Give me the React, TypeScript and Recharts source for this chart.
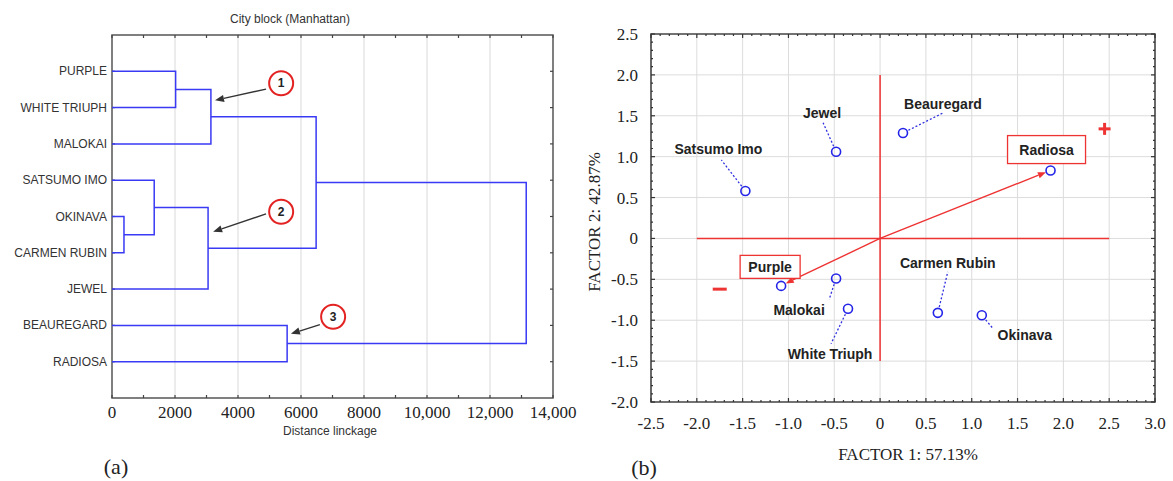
import React from 'react';
import {
    LineChart, Line, XAxis, YAxis, CartesianGrid, ReferenceLine, ReferenceDot, ReferenceArea,
    ScatterChart, Scatter,
} from 'recharts';

// ---- (a) dendrogram ----
const leaves = ['PURPLE', 'WHITE TRIUPH', 'MALOKAI', 'SATSUMO IMO', 'OKINAVA', 'CARMEN RUBIN', 'JEWEL', 'BEAUREGARD', 'RADIOSA'];
// merge k creates node 9 + k; ids < 9 are leaves
const mergeA = [4, 3, 0, 10, 11, 7, 13, 15];
const mergeB = [5, 9, 1, 6, 2, 8, 12, 14];
const mergeDist = [380, 1340, 2020, 3050, 3140, 5560, 6480, 13150];

// numbered callouts on the dendrogram
const calloutNum = ['1', '2', '3'];
const calloutX = [5370, 5370, 7020];
const calloutY = [1.33, 4.87, 7.76];
const calloutFromX = [4890, 4890, 6600];
const calloutFromY = [1.49, 4.93, 7.98];
const calloutToX = [3270, 3210, 5680];
const calloutToY = [1.8, 5.42, 8.23];

// ---- (b) factor biplot ----
const cultivars = ['Satsumo Imo', 'Jewel', 'Beauregard', 'Radiosa', 'Purple', 'Malokai', 'White Triuph', 'Carmen Rubin', 'Okinava'];
const factor1 = [-1.47, -0.48, 0.25, 1.86, -1.08, -0.48, -0.35, 0.63, 1.11];
const factor2 = [0.58, 1.06, 1.29, 0.83, -0.58, -0.49, -0.86, -0.91, -0.94];
const vectorX = [1.81, -1.03];
const vectorY = [0.81, -0.55];
const signX = [2.45, -1.75];
const signY = [1.34, -0.62];
const signText = ['+', '-'];

const SANS = 'Liberation Sans, Arial, sans-serif';
const SERIF = 'Liberation Serif, Times New Roman, serif';
const BLUE = '#3a3af4';
const RED = '#ee3333';

const rowTicks = [1, 2, 3, 4, 5, 6, 7, 8, 9];
const distMinor = Array.from({ length: 15 }, (_, i) => i * 1000);
const distTicks = [0, 2000, 4000, 6000, 8000, 10000, 12000, 14000];
const distGrid = [2000, 4000, 6000, 8000, 10000, 12000];
const fmtDist = (v: number) => (v >= 10000 ? v.toLocaleString('en-US') : String(v));

const stepTicks = (from: number, to: number, step: number) =>
    Array.from({ length: Math.round((to - from) / step) + 1 }, (_, i) => Math.round((from + i * step) * 10) / 10);
const f1Ticks = stepTicks(-2.5, 3.0, 0.5);
const f2Ticks = stepTicks(-2.0, 2.5, 0.5);
const f1Minor = stepTicks(-2.5, 3.0, 0.1);
const f2Minor = stepTicks(-2.0, 2.5, 0.1);
const isMajor = (v: number) => Math.abs(v * 2 - Math.round(v * 2)) < 1e-6;
const fmtFactor = (v: number) => (v === 0 ? '0' : v.toFixed(1));
const f1Grid = [-2, -1.5, -1, -0.5, 0, 0.5, 1, 1.5, 2, 2.5];
const f2Grid = [-1.5, -1, -0.5, 0, 0.5, 1, 1.5, 2];

// pixel offsets of text labels relative to their point (layout only)
const labelLayout: Record<string, { dx: number; dy: number; lx?: number; ly?: number; boxed?: boolean; w?: number; h?: number }> = {
    'Satsumo Imo': { dx: -27, dy: -42, lx: -24, ly: -31 },
    'Jewel': { dx: -14, dy: -39, lx: -13, ly: -29 },
    'Beauregard': { dx: 40, dy: -29, lx: 40, ly: -20 },
    'Radiosa': { dx: -4, dy: -21, boxed: true, w: 78, h: 28 },
    'Purple': { dx: -11, dy: -19, boxed: true, w: 60, h: 23 },
    'Malokai': { dx: -37, dy: 31, lx: -7, ly: 21 },
    'White Triuph': { dx: -18, dy: 45, lx: -17, ly: 35 },
    'Carmen Rubin': { dx: 10, dy: -50, lx: 10, ly: -41 },
    'Okinava': { dx: 43, dy: 20, lx: 11, ly: 13 },
};

// build dendrogram node positions (leaf rows at 1..9)
const nodes: { x: number; y: number }[] = leaves.map((_, i) => ({ x: 0, y: i + 1 }));
mergeA.forEach((a, k) => {
    nodes.push({ x: mergeDist[k], y: (nodes[a].y + nodes[mergeB[k]].y) / 2 });
});
const links = mergeA.map((a, k) => {
    const A = nodes[a];
    const B = nodes[mergeB[k]];
    const d = mergeDist[k];
    return [{ x: A.x, y: A.y }, { x: d, y: A.y }, { x: d, y: B.y }, { x: B.x, y: B.y }];
});

const biplotData = cultivars.map((name, i) => ({ name, x: factor1[i], y: factor2[i] }));

// line with a filled arrow head at (x2, y2)
const Arrow = (props: any) => {
    const { x1, y1, x2, y2, color, head = 8, width = 1.4 } = props;
    const a = Math.atan2(y2 - y1, x2 - x1);
    const bx = x2 - head * Math.cos(a);
    const by = y2 - head * Math.sin(a);
    const w = head * 0.4;
    const pts = `${x2},${y2} ${bx + w * Math.sin(a)},${by - w * Math.cos(a)} ${bx - w * Math.sin(a)},${by + w * Math.cos(a)}`;
    return (
        <g>
            <line x1={x1} y1={y1} x2={bx} y2={by} stroke={color} strokeWidth={width} />
            <polygon points={pts} fill={color} />
        </g>
    );
};

// short inward tick marks at both ends of a full-span reference line
const EdgeTicks = (props: any) => {
    const { x1, y1, x2, y2, len, color, sides = 'both' } = props;
    if (Math.abs(x1 - x2) < 0.01) {
        const top = Math.min(y1, y2);
        const bot = Math.max(y1, y2);
        return (
            <g stroke={color} strokeWidth={1.2}>
                {sides !== 'end' && <line x1={x1} y1={top} x2={x1} y2={top + len} />}
                {sides !== 'start' && <line x1={x1} y1={bot} x2={x1} y2={bot - len} />}
            </g>
        );
    }
    const left = Math.min(x1, x2);
    const right = Math.max(x1, x2);
    return (
        <g stroke={color} strokeWidth={1.2}>
            {sides !== 'end' && <line x1={left} y1={y1} x2={left + len} y2={y1} />}
            {sides !== 'start' && <line x1={right} y1={y1} x2={right - len} y2={y1} />}
        </g>
    );
};

const RowTick = (props: any) => {
    const { x, y, payload } = props;
    return (
        <text x={x} y={y} textAnchor="end" dominantBaseline="central" fontFamily={SANS} fontSize={12} fill="#333">
            {leaves[payload.value - 1]}
        </text>
    );
};

const Callout = (props: any) => {
    const { cx, cy, label } = props;
    return (
        <g>
            <circle cx={cx} cy={cy} r={12} fill="#fff" stroke="#e32222" strokeWidth={2} />
            <text x={cx} y={cy} textAnchor="middle" dominantBaseline="central" fontFamily={SANS} fontWeight="bold" fontSize={12} fill="#222">{label}</text>
        </g>
    );
};

const CultivarDot = (props: any) => {
    const { cx, cy, payload } = props;
    const lay = labelLayout[payload.name];
    let conn = null;
    if (lay.lx !== undefined && lay.ly !== undefined) {
        const len = Math.hypot(lay.lx, lay.ly);
        conn = (
            <line x1={cx + (lay.lx / len) * 6} y1={cy + (lay.ly / len) * 6} x2={cx + lay.lx} y2={cy + lay.ly}
                stroke="#3030e0" strokeWidth={1.3} strokeDasharray="2 2" />
        );
    }
    return (
        <g>
            {conn}
            <circle cx={cx} cy={cy} r={4.5} fill="none" stroke="#2424e8" strokeWidth={1.6} />
            {lay.boxed && (
                <rect x={cx + lay.dx - (lay.w as number) / 2} y={cy + lay.dy - (lay.h as number) / 2} width={lay.w} height={lay.h}
                    fill="#fff" stroke={RED} strokeWidth={1.3} />
            )}
            <text x={cx + lay.dx} y={cy + lay.dy} textAnchor="middle" dominantBaseline="central"
                fontFamily={SANS} fontWeight="bold" fontSize={14} fill="#222">{payload.name}</text>
        </g>
    );
};

const Sign = (props: any) => {
    const { cx, cy, label } = props;
    if (label === '+') {
        return (
            <g stroke={RED} strokeWidth={3}>
                <line x1={cx - 6} y1={cy} x2={cx + 6} y2={cy} />
                <line x1={cx} y1={cy - 6} x2={cx} y2={cy + 6} />
            </g>
        );
    }
    return <line x1={cx - 7} y1={cy} x2={cx + 7} y2={cy} stroke={RED} strokeWidth={3} />;
};

const Dendrogram = () => (
    <LineChart width={600} height={481} margin={{ top: 35, right: 47, left: 0, bottom: 53 }}>
        <CartesianGrid vertical horizontal={false} verticalValues={distGrid} stroke="#d9d9d9" />
        <XAxis dataKey="x" type="number" domain={[0, 14000]} allowDataOverflow ticks={distTicks} interval={0}
            tickFormatter={fmtDist} height={30} axisLine={false} tickLine={false} tickSize={0} tickMargin={8}
            tick={{ fontFamily: SERIF, fontSize: 17, fill: '#222' }} />
        <YAxis type="number" domain={[0, 10]} reversed allowDataOverflow ticks={rowTicks} interval={0}
            width={112} axisLine={false} tickLine={false} tickSize={0} tickMargin={5} tick={<RowTick />} />
        {distMinor.map((v) => (
            <ReferenceLine key={'tx' + v} x={v} shape={(p: any) => <EdgeTicks {...p} len={3} color="#444" />} />
        ))}
        {rowTicks.map((v) => (
            <ReferenceLine key={'ty' + v} y={v} shape={(p: any) => <EdgeTicks {...p} len={3} color="#444" />} />
        ))}
        <ReferenceArea x1={0} x2={14000} y1={0} y2={10} fill="none" stroke="#555" strokeWidth={1.5} />
        {links.map((link, k) => (
            <Line key={k} data={link} dataKey="y" type="linear" stroke={BLUE} strokeWidth={1.5} dot={false}
                activeDot={false} isAnimationActive={false} />
        ))}
        {calloutNum.map((n, i) => (
            <ReferenceLine key={'a' + n} segment={[{ x: calloutFromX[i], y: calloutFromY[i] }, { x: calloutToX[i], y: calloutToY[i] }]}
                shape={(p: any) => <Arrow {...p} color="#333" head={9} width={1.4} />} />
        ))}
        {calloutNum.map((n, i) => (
            <ReferenceDot key={'c' + n} x={calloutX[i]} y={calloutY[i]} r={12}
                shape={(p: any) => <Callout {...p} label={n} />} />
        ))}
    </LineChart>
);

const Biplot = () => (
    <ScatterChart width={593} height={481} margin={{ top: 34, right: 18, left: 0, bottom: 49 }}>
        <CartesianGrid verticalValues={f1Grid} horizontalValues={f2Grid} stroke="#dcdcdc" />
        <XAxis dataKey="x" type="number" domain={[-2.5, 3.0]} allowDataOverflow ticks={f1Ticks} interval={0}
            tickFormatter={fmtFactor} height={30} axisLine={false} tickLine={false} tickSize={0} tickMargin={15}
            tick={{ fontFamily: SERIF, fontSize: 17, fill: '#222' }} />
        <YAxis dataKey="y" type="number" domain={[-2.0, 2.5]} allowDataOverflow ticks={f2Ticks} interval={0}
            tickFormatter={fmtFactor} width={71} axisLine={false} tickLine={false} tickSize={0} tickMargin={13}
            tick={{ fontFamily: SERIF, fontSize: 17, fill: '#222' }} />
        {f1Minor.map((v) => (
            <ReferenceLine key={'tx' + v} x={v} shape={(p: any) => <EdgeTicks {...p} len={isMajor(v) ? 4 : 2} color="#333" />} />
        ))}
        {f2Minor.map((v) => (
            <ReferenceLine key={'ty' + v} y={v} shape={(p: any) => <EdgeTicks {...p} len={isMajor(v) ? 4 : 2} color="#333" />} />
        ))}
        <ReferenceArea x1={-2.5} x2={3.0} y1={-2.0} y2={2.5} fill="none" stroke="#444" strokeWidth={1.6} />
        <ReferenceLine segment={[{ x: -2.0, y: 0 }, { x: 2.5, y: 0 }]} stroke={RED} strokeWidth={1.5} />
        <ReferenceLine segment={[{ x: 0, y: -1.5 }, { x: 0, y: 2.0 }]} stroke={RED} strokeWidth={1.5} />
        <Scatter data={biplotData} isAnimationActive={false} shape={(p: any) => <CultivarDot {...p} />} />
        {vectorX.map((vx, i) => (
            <ReferenceLine key={'v' + i} segment={[{ x: 0, y: 0 }, { x: vx, y: vectorY[i] }]}
                shape={(p: any) => <Arrow {...p} color={RED} head={8} width={1.4} />} />
        ))}
        {signX.map((sx, i) => (
            <ReferenceDot key={'s' + i} x={sx} y={signY[i]} r={6} shape={(p: any) => <Sign {...p} label={signText[i]} />} />
        ))}
    </ScatterChart>
);

const Txt = ({ x, y, size, font, children, rotate = 0, color = '#222' }: any) => (
    <div style={{
        position: 'absolute', left: x, top: y, transform: `translate(-50%, -50%) rotate(${rotate}deg)`,
        fontFamily: font, fontSize: size, color, whiteSpace: 'nowrap', lineHeight: 1,
    }}>{children}</div>
);

export default function App() {
    return (
        <div style={{ position: 'absolute', left: 0, top: 0, width: 1173, height: 481, background: '#fff', overflow: 'hidden' }}>
            <div style={{ position: 'absolute', left: 0, top: 0 }}><Dendrogram /></div>
            <div style={{ position: 'absolute', left: 580, top: 0 }}><Biplot /></div>
            <Txt x={290} y={19} size={12} font={SANS} color="#333">City block (Manhattan)</Txt>
            <Txt x={330} y={431} size={12} font={SANS} color="#333">Distance linckage</Txt>
            <Txt x={116} y={467} size={22} font={SERIF}>(a)</Txt>
            <Txt x={644} y={468} size={22} font={SERIF}>(b)</Txt>
            <Txt x={908} y={454} size={17} font={SERIF}>FACTOR 1: 57.13%</Txt>
            <Txt x={594} y={222} size={17} font={SERIF} rotate={-90}>FACTOR 2: 42.87%</Txt>
        </div>
    );
}
